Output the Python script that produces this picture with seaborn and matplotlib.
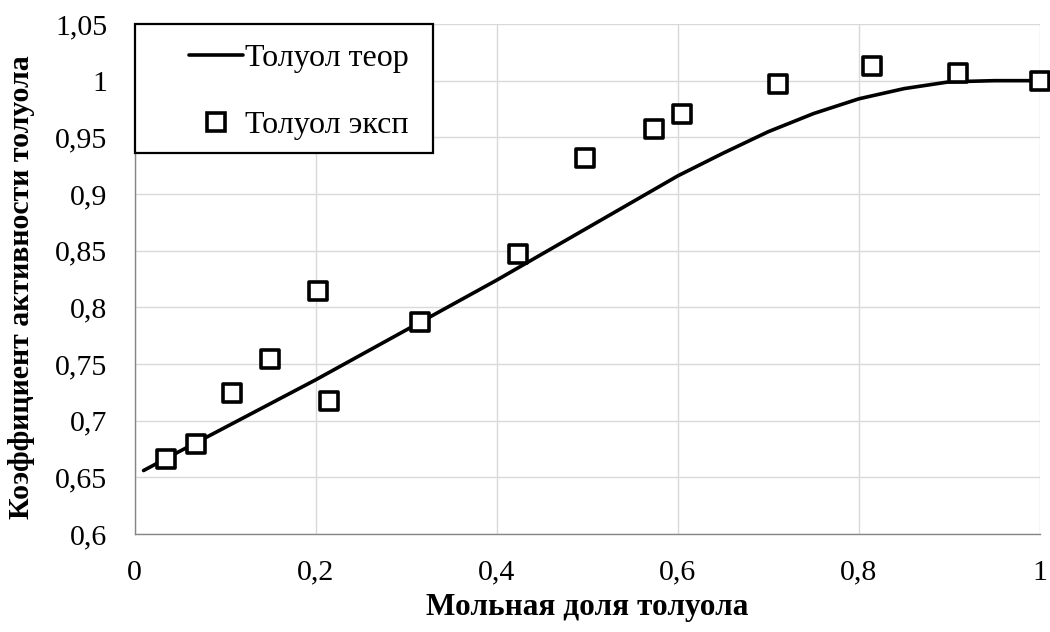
import matplotlib
matplotlib.use("Agg")
import matplotlib.pyplot as plt
from matplotlib.ticker import FuncFormatter, MultipleLocator
from matplotlib.lines import Line2D
from matplotlib.patches import Rectangle
import seaborn as sns
import pandas as pd

# Theoretical activity coefficient curve
x_theor = [0.01, 0.05, 0.10, 0.15, 0.20, 0.25, 0.30, 0.35, 0.40, 0.45, 0.50,
           0.55, 0.60, 0.65, 0.70, 0.75, 0.80, 0.85, 0.90, 0.95, 1.00]
y_theor = [0.656, 0.673, 0.694, 0.715, 0.736, 0.758, 0.780, 0.802, 0.824, 0.847, 0.870,
           0.893, 0.916, 0.936, 0.955, 0.971, 0.984, 0.993, 0.999, 1.000, 1.000]

# Experimental points
x_exp = [0.035, 0.068, 0.108, 0.150, 0.203, 0.215, 0.315, 0.423, 0.497,
         0.574, 0.605, 0.711, 0.814, 0.909, 1.000]
y_exp = [0.666, 0.679, 0.724, 0.754, 0.814, 0.717, 0.787, 0.847, 0.932,
         0.957, 0.971, 0.997, 1.013, 1.007, 1.000]

label_theor = "Толуол теор"
label_exp = "Толуол эксп"

sns.set_theme(style="white")
plt.rcParams["font.family"] = ["Liberation Serif", "DejaVu Serif"]
plt.rcParams["text.color"] = "black"
plt.rcParams["axes.labelcolor"] = "black"

W, H = 1050, 632
fig = plt.figure(figsize=(W / 100, H / 100), dpi=100)
ax = fig.add_axes([134.5 / W, 1 - 534 / H, (1040 - 134.5) / W, (534 - 24) / H])

df_t = pd.DataFrame({"x": x_theor, "y": y_theor})
df_e = pd.DataFrame({"x": x_exp, "y": y_exp})

sns.lineplot(data=df_t, x="x", y="y", ax=ax, color="black", linewidth=2.6,
             zorder=3, legend=False)
sns.scatterplot(data=df_e, x="x", y="y", ax=ax, marker="s", s=150,
                facecolor="white", edgecolor="black", linewidth=2.6,
                zorder=4, legend=False, clip_on=False)

ax.set_xlim(0, 1)
ax.set_ylim(0.6, 1.05)
ax.xaxis.set_major_locator(MultipleLocator(0.2))
ax.yaxis.set_major_locator(MultipleLocator(0.05))


def comma_fmt(v, pos):
    s = f"{v:.2f}".rstrip("0").rstrip(".")
    return s.replace(".", ",")


ax.xaxis.set_major_formatter(FuncFormatter(comma_fmt))
ax.yaxis.set_major_formatter(FuncFormatter(comma_fmt))

ax.grid(True, color="#d9d9d9", linewidth=1.0, zorder=0)
ax.set_axisbelow(True)
for side in ["top", "right"]:
    ax.spines[side].set_visible(False)
for side in ["left", "bottom"]:
    ax.spines[side].set_color("#868686")
    ax.spines[side].set_linewidth(1.0)

ax.tick_params(axis="both", which="major", direction="out", length=6.5,
               width=1.0, color="#868686", labelsize=21.5, labelcolor="black")
ax.tick_params(axis="x", pad=12)
ax.tick_params(axis="y", pad=13)

ax.set_xlabel("Мольная доля толуола", fontsize=22.5, fontweight="bold")
ax.set_ylabel("Коэффициент активности толуола", fontsize=21.5, fontweight="bold")
ax.xaxis.label.set_va("center")
ax.yaxis.label.set_va("center")
ax.xaxis.set_label_coords(0.5, (534 - 607) / 510)
ax.yaxis.set_label_coords((21.5 - 134.5) / 905.5, (534 - 287) / 510)

# Legend box in the upper-left corner of the plot area
box_w = (433 - 134.5) / 905.5
box_h = (153 - 24) / 510
ax.add_patch(Rectangle((0, 1 - box_h), box_w, box_h, transform=ax.transAxes,
                       facecolor="white", edgecolor="black", linewidth=1.6,
                       zorder=9, clip_on=False))

handles = [
    Line2D([0], [0], color="black", linewidth=2.6),
    Line2D([0], [0], marker="s", linestyle="none", markersize=12.5,
           markerfacecolor="white", markeredgecolor="black", markeredgewidth=2.6),
]
fs_leg = 23
leg = ax.legend(handles, [label_theor, label_exp], loc="upper left",
                bbox_to_anchor=((189 - 134.5) / 905.5, (534 - 44) / 510),
                fontsize=fs_leg, frameon=False, borderpad=0,
                labelspacing=1.17, handlelength=54 / (fs_leg * 100 / 72),
                handletextpad=0.06, borderaxespad=0)
leg.set_zorder(10)

fig.savefig("out.png", dpi=100)
